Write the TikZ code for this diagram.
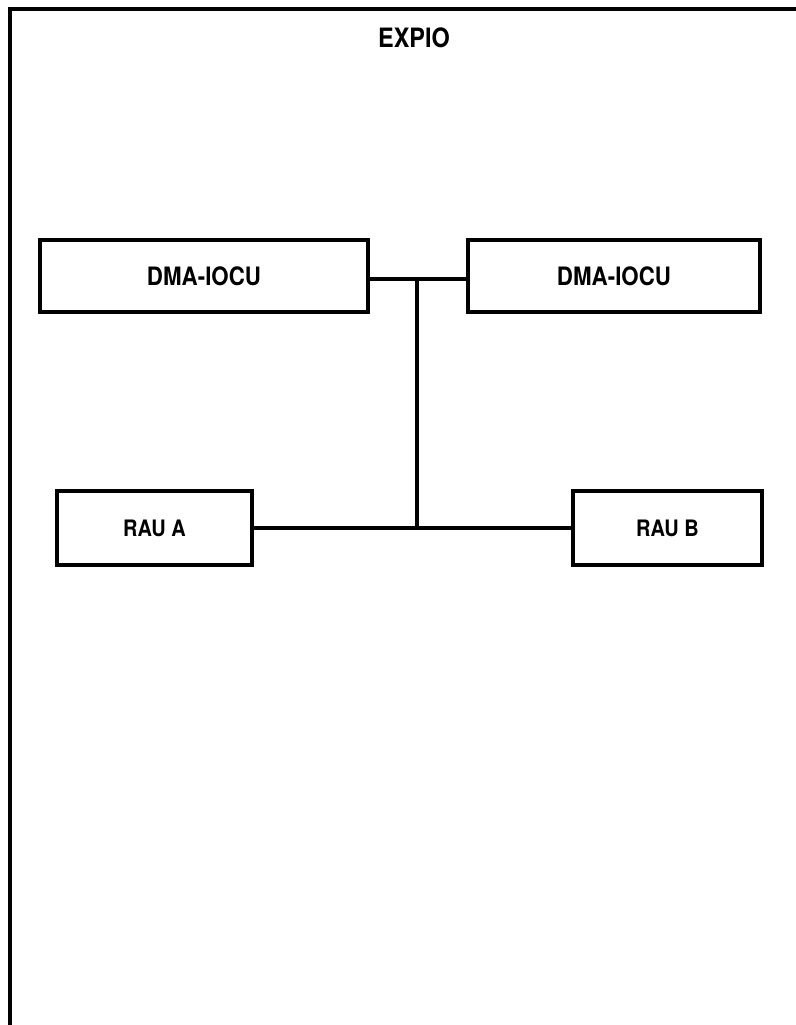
\documentclass[tikz,border=0pt]{standalone}
\usepackage{fontspec}
\setmainfont{TeX Gyre Heros}[FakeStretch=0.88]
\usepackage{tikz}

\begin{document}
\begin{tikzpicture}[
        x=0.75pt, y=-0.75pt,
        every node/.style={font=\bfseries\fontsize{17}{19}\selectfont, inner sep=0pt},
        unit_box/.style={draw, line width=2.6pt, minimum height=54pt},
        dma_box/.style={unit_box, font=\bfseries\fontsize{19}{21}\selectfont},
        title_text/.style={font=\bfseries\fontsize{20}{22}\selectfont},
        bus/.style={line width=2.6pt},
        frame/.style={line width=2.8pt}
    ]
    \useasboundingbox (0,0) rectangle (796,1025);
    % outer frame (top and left edges only)
    \draw[frame] (796,9) -- (10,9) -- (10,1025);
    \node[title_text] (title) at (414,38) {EXPIO};

    \node[dma_box, minimum width=246pt] (dma_left) at (204,276) {DMA-IOCU};
    \node[dma_box, minimum width=219pt] (dma_right) at (614,276) {DMA-IOCU};
    \node[unit_box, minimum width=146pt, minimum height=55.5pt] (rau_a) at (154.5,528) {RAU A};
    \node[unit_box, minimum width=142pt, minimum height=55.5pt] (rau_b) at (667.5,528) {RAU B};

    \coordinate (bus_top) at (417,279);
    \coordinate (bus_bottom) at (bus_top |- rau_a.east);
    \draw[bus] (dma_left.east |- bus_top) -- (dma_right.west |- bus_top);
    \draw[bus] (bus_top) -- (bus_bottom);
    \draw[bus] (rau_a.east) -- (rau_b.west);
\end{tikzpicture}
\end{document}
